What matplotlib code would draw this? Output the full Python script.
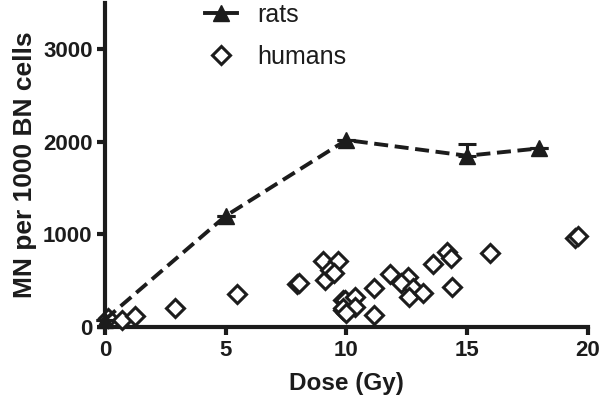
import numpy as np
import matplotlib
matplotlib.use("Agg")
import matplotlib.pyplot as plt
from matplotlib.lines import Line2D

plt.rcParams['font.family'] = ['Liberation Sans', 'DejaVu Sans']

# rats: mean values per dose, with upper SEM
rat_dose = [0, 5, 10, 15, 18]
rat_mn = [80, 1200, 2020, 1850, 1930]
rat_err = [0, 0, 0, 130, 0]

# humans: individual patients
hum_dose = [0.14, 0.69, 1.24, 2.9, 5.45, 7.94, 8.05, 9.04, 9.66, 9.11, 9.32, 9.5,
            9.87, 9.86, 9.94, 10.35, 9.87, 10.35, 10.0, 11.15, 11.15, 11.8, 12.56,
            12.28, 12.77, 12.6, 13.18, 13.6, 14.15, 14.35, 14.38, 15.94, 19.46, 19.6]
hum_mn = [94, 75, 119, 208, 352, 460, 480, 715, 715, 507, 615, 580,
          291, 183, 291, 327, 202, 219, 148, 424, 129, 568, 543,
          471, 417, 327, 363, 680, 812, 741, 428, 802, 960, 985]

col = '#1c1c1c'

fig = plt.figure(figsize=(6.01, 4.08), dpi=100)
ax = fig.add_axes([0.1747, 0.1985, 0.978 - 0.1747, 0.9926 - 0.1985])

ax.plot(hum_dose, hum_mn, linestyle='none', marker='D', ms=9, mfc='white',
        mec=col, mew=2.2, clip_on=False, zorder=3)
ax.errorbar(rat_dose, rat_mn, yerr=[np.zeros(len(rat_err)), rat_err],
            color=col, ls=(0, (3.6, 1.7)), lw=2.8, marker='^', ms=11,
            capsize=6.5, capthick=2.2, elinewidth=2.2, clip_on=False,
            zorder=4)

ax.set_xlim(0, 20)
ax.set_ylim(0, 3500)
ax.set_xticks([0, 5, 10, 15, 20])
ax.set_yticks([0, 1000, 2000, 3000])

for s in ['top', 'right']:
    ax.spines[s].set_visible(False)
for s in ['left', 'bottom']:
    ax.spines[s].set_linewidth(3)
    ax.spines[s].set_color(col)
ax.tick_params(width=3, length=6, color=col, labelsize=16, labelcolor=col, pad=3)
for lab in ax.get_xticklabels() + ax.get_yticklabels():
    lab.set_fontweight('bold')

ax.set_xlabel('Dose (Gy)', fontsize=17.5, fontweight='bold', color=col, labelpad=8)
ax.set_ylabel('MN per 1000 BN cells', fontsize=19, fontweight='bold', color=col, labelpad=4)

h_rat = Line2D([], [], color=col, lw=2.8, marker='^', ms=11)
h_hum = Line2D([], [], ls='none', marker='D', ms=9, mfc='white', mec=col, mew=2.2)
leg = ax.legend([h_rat, h_hum], ['rats', 'humans'], loc='upper left',
                bbox_to_anchor=(205 / 601, 1 - 3 / 408), bbox_transform=fig.transFigure,
                frameon=False, fontsize=18, handlelength=1.3, handletextpad=0.8,
                labelspacing=0.72, borderpad=0, borderaxespad=0)
for t in leg.get_texts():
    t.set_color(col)

fig.savefig('out.png', dpi=100)
